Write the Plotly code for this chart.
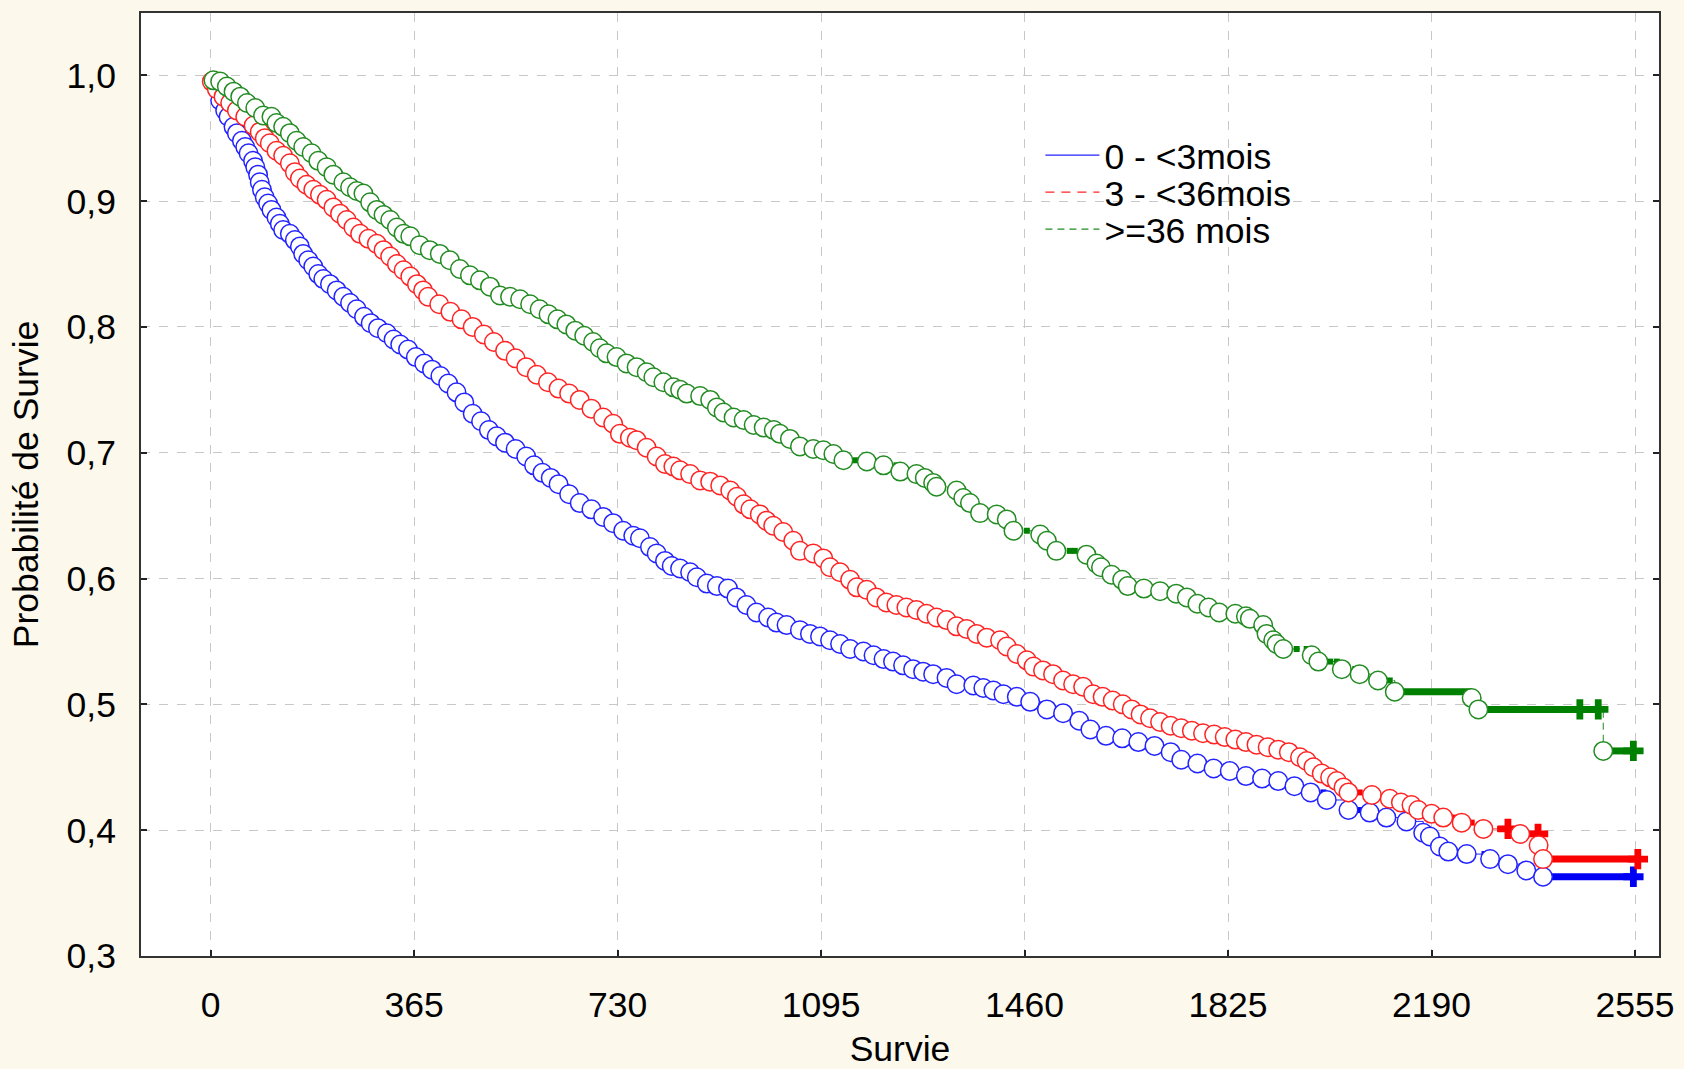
import plotly.graph_objects as go

# ---------------- data ----------------
x_tick_vals = [0, 365, 730, 1095, 1460, 1825, 2190, 2555]
x_tick_text = ["0", "365", "730", "1095", "1460", "1825", "2190", "2555"]
y_tick_vals = [0.3, 0.4, 0.5, 0.6, 0.7, 0.8, 0.9, 1.0]
y_tick_text = ["0,3", "0,4", "0,5", "0,6", "0,7", "0,8", "0,9", "1,0"]

series_names = ["0 - <3mois", "3 - <36mois", ">=36 mois"]

# event times (days) and survival probability after each event
blue_t = [17, 26, 32, 41, 47, 56, 62, 68, 76, 80, 85, 88, 92, 97, 103, 109, 118, 124, 130,
          142, 151, 160, 166, 175, 184, 193, 202, 214, 226, 238, 250, 262, 275, 287, 300,
          316, 328, 340, 354, 368, 383, 397, 412, 426, 441, 455, 470, 485, 499, 513, 528,
          547, 566, 580, 595, 610, 624, 643, 662, 683, 704, 722, 740, 758, 770, 788, 800,
          815, 827, 842, 860, 872, 890, 908, 928, 943, 961, 979, 1000, 1015, 1033, 1057,
          1075, 1093, 1111, 1129, 1147, 1171, 1189, 1207, 1224, 1242, 1260, 1278, 1296,
          1320, 1338, 1368, 1386, 1404, 1422, 1446, 1470, 1500, 1529, 1558, 1578, 1606,
          1635, 1664, 1693, 1722, 1741, 1770, 1799, 1828, 1857, 1886, 1915, 1944, 1973,
          2002, 2041, 2079, 2109, 2145, 2175, 2187, 2205, 2220, 2253, 2295, 2327, 2360,
          2390]
blue_s = [0.980, 0.972, 0.967, 0.959, 0.954, 0.948, 0.943, 0.938, 0.932, 0.927, 0.921,
          0.915, 0.909, 0.903, 0.898, 0.893, 0.887, 0.882, 0.877, 0.874, 0.869, 0.864,
          0.858, 0.853, 0.848, 0.842, 0.838, 0.834, 0.829, 0.824, 0.819, 0.814, 0.808,
          0.803, 0.799, 0.795, 0.790, 0.786, 0.782, 0.776, 0.771, 0.766, 0.761, 0.755,
          0.748, 0.740, 0.731, 0.725, 0.718, 0.713, 0.708, 0.703, 0.697, 0.690, 0.684,
          0.680, 0.675, 0.667, 0.660, 0.655, 0.649, 0.644, 0.638, 0.634, 0.632, 0.625,
          0.620, 0.614, 0.610, 0.608, 0.605, 0.601, 0.596, 0.594, 0.592, 0.585, 0.579,
          0.573, 0.569, 0.565, 0.563, 0.559, 0.556, 0.554, 0.551, 0.548, 0.544, 0.542,
          0.539, 0.536, 0.534, 0.531, 0.528, 0.526, 0.524, 0.521, 0.516, 0.515, 0.513,
          0.511, 0.508, 0.506, 0.502, 0.496, 0.493, 0.487, 0.480, 0.475, 0.473, 0.470,
          0.467, 0.462, 0.456, 0.453, 0.449, 0.447, 0.443, 0.441, 0.439, 0.435, 0.430,
          0.424, 0.416, 0.414, 0.410, 0.407, 0.398, 0.395, 0.387, 0.383, 0.381, 0.377,
          0.373, 0.368, 0.363]
blue_cens = [943, 1224, 1287, 1446, 1996, 2061, 2222, 2285, 2327, 2360]
blue_cross = [2552]
blue_bars = [(2390, 2552)]

red_t = [2, 11, 23, 35, 47, 62, 77, 88, 97, 106, 118, 130, 142, 151, 160, 172, 184, 196,
         208, 220, 232, 244, 256, 268, 283, 298, 310, 322, 334, 346, 358, 370, 381, 390,
         410, 430, 450, 470, 490, 508, 528, 547, 566, 585, 605, 624, 643, 662, 683, 704,
         722, 734, 752, 764, 782, 800, 815, 830, 842, 860, 878, 896, 914, 932, 944, 956,
         968, 985, 997, 1009, 1027, 1045, 1057, 1081, 1099, 1111, 1129, 1147, 1159, 1177,
         1194, 1212, 1230, 1248, 1266, 1284, 1302, 1320, 1338, 1356, 1374, 1392, 1416,
         1428, 1446, 1464, 1476, 1493, 1511, 1529, 1547, 1565, 1583, 1600, 1618, 1636,
         1652, 1668, 1685, 1703, 1722, 1741, 1760, 1780, 1800, 1819, 1838, 1857, 1876,
         1896, 1915, 1934, 1954, 1966, 1978, 1993, 2008, 2020, 2032, 2041, 2083, 2115,
         2135, 2154, 2166, 2190, 2211, 2244, 2283, 2349, 2382, 2390]
red_s = [0.995, 0.989, 0.983, 0.978, 0.972, 0.967, 0.960, 0.955, 0.950, 0.946, 0.940,
         0.936, 0.930, 0.923, 0.918, 0.913, 0.909, 0.905, 0.901, 0.895, 0.890, 0.885,
         0.879, 0.874, 0.870, 0.866, 0.861, 0.856, 0.850, 0.845, 0.840, 0.834, 0.829,
         0.824, 0.818, 0.812, 0.806, 0.800, 0.794, 0.788, 0.781, 0.775, 0.768, 0.762,
         0.756, 0.751, 0.747, 0.742, 0.735, 0.728, 0.723, 0.715, 0.712, 0.710, 0.704,
         0.697, 0.691, 0.689, 0.686, 0.683, 0.678, 0.677, 0.674, 0.670, 0.665, 0.659,
         0.655, 0.651, 0.646, 0.642, 0.637, 0.630, 0.622, 0.620, 0.616, 0.609, 0.605,
         0.599, 0.593, 0.591, 0.585, 0.581, 0.579, 0.577, 0.575, 0.572, 0.569, 0.567,
         0.562, 0.560, 0.556, 0.553, 0.551, 0.546, 0.540, 0.535, 0.530, 0.527, 0.524,
         0.519, 0.516, 0.514, 0.508, 0.506, 0.503, 0.500, 0.496, 0.492, 0.489, 0.486,
         0.483, 0.481, 0.479, 0.477, 0.476, 0.474, 0.472, 0.470, 0.468, 0.466, 0.464,
         0.462, 0.458, 0.455, 0.450, 0.445, 0.442, 0.439, 0.434, 0.430, 0.428, 0.425,
         0.422, 0.420, 0.416, 0.413, 0.410, 0.406, 0.401, 0.397, 0.388, 0.377]
red_cens = [764, 860, 1210, 1242, 1329, 1412, 1529, 1987, 2020, 2061, 2115, 2145, 2199,
            2232, 2262, 2285, 2313]
red_cross = [2327, 2381, 2560]
red_bars = [(2390, 2560)]

green_t = [5, 17, 29, 41, 53, 65, 80, 94, 109, 118, 130, 142, 154, 166, 181, 193, 208,
           220, 238, 250, 262, 274, 286, 298, 310, 322, 334, 346, 358, 375, 393, 411, 429,
           447, 465, 483, 501, 519, 537, 555, 573, 590, 606, 622, 638, 654, 670, 686, 698,
           710, 728, 746, 764, 782, 794, 812, 830, 842, 854, 878, 896, 908, 920, 938, 956,
           974, 992, 1010, 1021, 1039, 1057, 1081, 1099, 1117, 1135, 1177, 1207, 1237, 1266,
           1281, 1296, 1302, 1338, 1350, 1362, 1380, 1410, 1428, 1440, 1488, 1500, 1517,
           1571, 1589, 1597, 1616, 1635, 1645, 1674, 1703, 1732, 1751, 1770, 1790, 1809,
           1838, 1857, 1864, 1888, 1894, 1906, 1912, 1924, 1975, 1987, 2029, 2061, 2094,
           2124, 2262, 2274, 2498]
green_s = [0.996, 0.995, 0.991, 0.987, 0.983, 0.978, 0.974, 0.968, 0.967, 0.962, 0.959,
           0.954, 0.948, 0.943, 0.938, 0.932, 0.927, 0.921, 0.915, 0.911, 0.908, 0.906,
           0.899, 0.893, 0.889, 0.885, 0.879, 0.874, 0.872, 0.865, 0.861, 0.858, 0.853,
           0.846, 0.841, 0.837, 0.832, 0.825, 0.824, 0.822, 0.818, 0.814, 0.810, 0.806,
           0.802, 0.797, 0.793, 0.788, 0.783, 0.779, 0.776, 0.771, 0.768, 0.764, 0.760,
           0.756, 0.752, 0.750, 0.747, 0.745, 0.742, 0.736, 0.732, 0.728, 0.726, 0.722,
           0.720, 0.718, 0.715, 0.711, 0.705, 0.703, 0.702, 0.699, 0.694, 0.693, 0.690,
           0.685, 0.683, 0.680, 0.676, 0.673, 0.670, 0.664, 0.660, 0.652, 0.651, 0.647,
           0.638, 0.635, 0.630, 0.622, 0.619, 0.612, 0.609, 0.603, 0.599, 0.594, 0.592,
           0.590, 0.588, 0.585, 0.580, 0.577, 0.573, 0.572, 0.570, 0.568, 0.563, 0.556,
           0.551, 0.548, 0.544, 0.539, 0.534, 0.528, 0.524, 0.519, 0.510, 0.505, 0.496,
           0.463]
green_cens = [393, 489, 935, 1060, 1135, 1156, 1201, 1230, 1380, 1464, 1500, 1511, 1541,
              1550, 1915, 1948, 1966, 2008, 2020, 2053, 2094, 2115, 2265, 2285]
green_cross = [2456, 2489, 2552]
green_bars = [(2124, 2262), (2280, 2489), (2498, 2552)]

# ---------------- styles ----------------
circle_colors = ["rgb(35,35,255)", "rgb(255,35,35)", "rgb(34,139,34)"]
solid_colors = ["rgb(0,0,245)", "rgb(250,0,0)", "rgb(0,128,0)"]
dashes = ["solid", "9px,7px", "7px,5px"]
FONT = "Liberation Sans, Arial, Helvetica, sans-serif"
FS = 35.5


def km_at(ts, ss, t):
    v = 1.0
    for ti, si in zip(ts, ss):
        if ti <= t:
            v = si
        else:
            break
    return v


fig = go.Figure()

all_series = [
    (blue_t, blue_s, blue_cens, blue_cross, blue_bars),
    (red_t, red_s, red_cens, red_cross, red_bars),
    (green_t, green_s, green_cens, green_cross, green_bars),
]

for i, (ts, ss, cens, cross, bars) in enumerate(all_series):
    end_t = max(cross + cens + ts)
    # step line
    fig.add_trace(go.Scatter(
        x=[0] + ts + [end_t], y=[1.0] + ss + [ss[-1]],
        mode="lines", line=dict(color=circle_colors[i], width=1, shape="hv", dash=dashes[i]),
        showlegend=False, hoverinfo="skip"))
    # dense censoring shown as thick bars
    for (a, b) in bars:
        yv = km_at(ts, ss, a)
        fig.add_trace(go.Scatter(
            x=[a, b], y=[yv, yv], mode="lines",
            line=dict(color=solid_colors[i], width=7),
            showlegend=False, hoverinfo="skip"))
    # censored observations
    fig.add_trace(go.Scatter(
        x=cens, y=[km_at(ts, ss, t) for t in cens], mode="markers",
        marker=dict(symbol="square", size=6, color=solid_colors[i]),
        showlegend=False))
    fig.add_trace(go.Scatter(
        x=cross, y=[km_at(ts, ss, t) for t in cross], mode="markers",
        marker=dict(symbol="cross", size=17, color=solid_colors[i]),
        showlegend=False))
    # events
    fig.add_trace(go.Scatter(
        x=ts, y=ss, mode="markers",
        marker=dict(symbol="circle", size=18.5, color="white",
                    line=dict(color=circle_colors[i], width=1.5)),
        showlegend=False))

# legend entries (one legend per entry for exact spacing)
legend_keys = ["legend", "legend2", "legend3"]
legend_y = [0.8488, 0.8096, 0.7703]
for i, name in enumerate(series_names):
    fig.add_trace(go.Scatter(
        x=[None], y=[None], mode="lines", name=name,
        line=dict(color=circle_colors[i], width=1.2, dash=dashes[i]),
        legend=legend_keys[i], showlegend=True))

legend_common = dict(x=0.5925, xanchor="left", yanchor="middle",
                     bgcolor="rgba(0,0,0,0)", borderwidth=0,
                     font=dict(family=FONT, size=FS, color="black"),
                     itemwidth=54)

fig.update_layout(
    width=1684, height=1069,
    margin=dict(l=141, r=25, t=13, b=113, autoexpand=False),
    paper_bgcolor="#fdf8ec",
    plot_bgcolor="white",
    font=dict(family=FONT, size=FS, color="black"),
    legend=dict(y=legend_y[0], **legend_common),
    legend2=dict(y=legend_y[1], **legend_common),
    legend3=dict(y=legend_y[2], **legend_common),
    xaxis=dict(
        range=[-125, 2598], tickvals=x_tick_vals, ticktext=x_tick_text,
        ticks="inside", ticklen=6, tickwidth=1.5, tickcolor="#222",
        showline=True, linecolor="#333", linewidth=2, mirror=True,
        showgrid=True, gridcolor="#c8c8c8", griddash="dash", gridwidth=1.3,
        zeroline=False, ticklabelstandoff=16,
        tickfont=dict(family=FONT, size=FS, color="black"),
        title=dict(text="Survie", standoff=16, font=dict(family=FONT, size=FS, color="black")),
    ),
    yaxis=dict(
        range=[0.3, 1.0495], tickvals=y_tick_vals, ticktext=y_tick_text,
        ticks="inside", ticklen=6, tickwidth=1.5, tickcolor="#222",
        showline=True, linecolor="#333", linewidth=2, mirror="ticks",
        showgrid=True, gridcolor="#c8c8c8", griddash="dash", gridwidth=1.3,
        zeroline=False, ticklabelstandoff=16,
        tickfont=dict(family=FONT, size=FS, color="black"),
        title=dict(text="Probabilité de Survie", standoff=17,
                   font=dict(family=FONT, size=FS, color="black")),
    ),
)

fig.write_html("out.html")
